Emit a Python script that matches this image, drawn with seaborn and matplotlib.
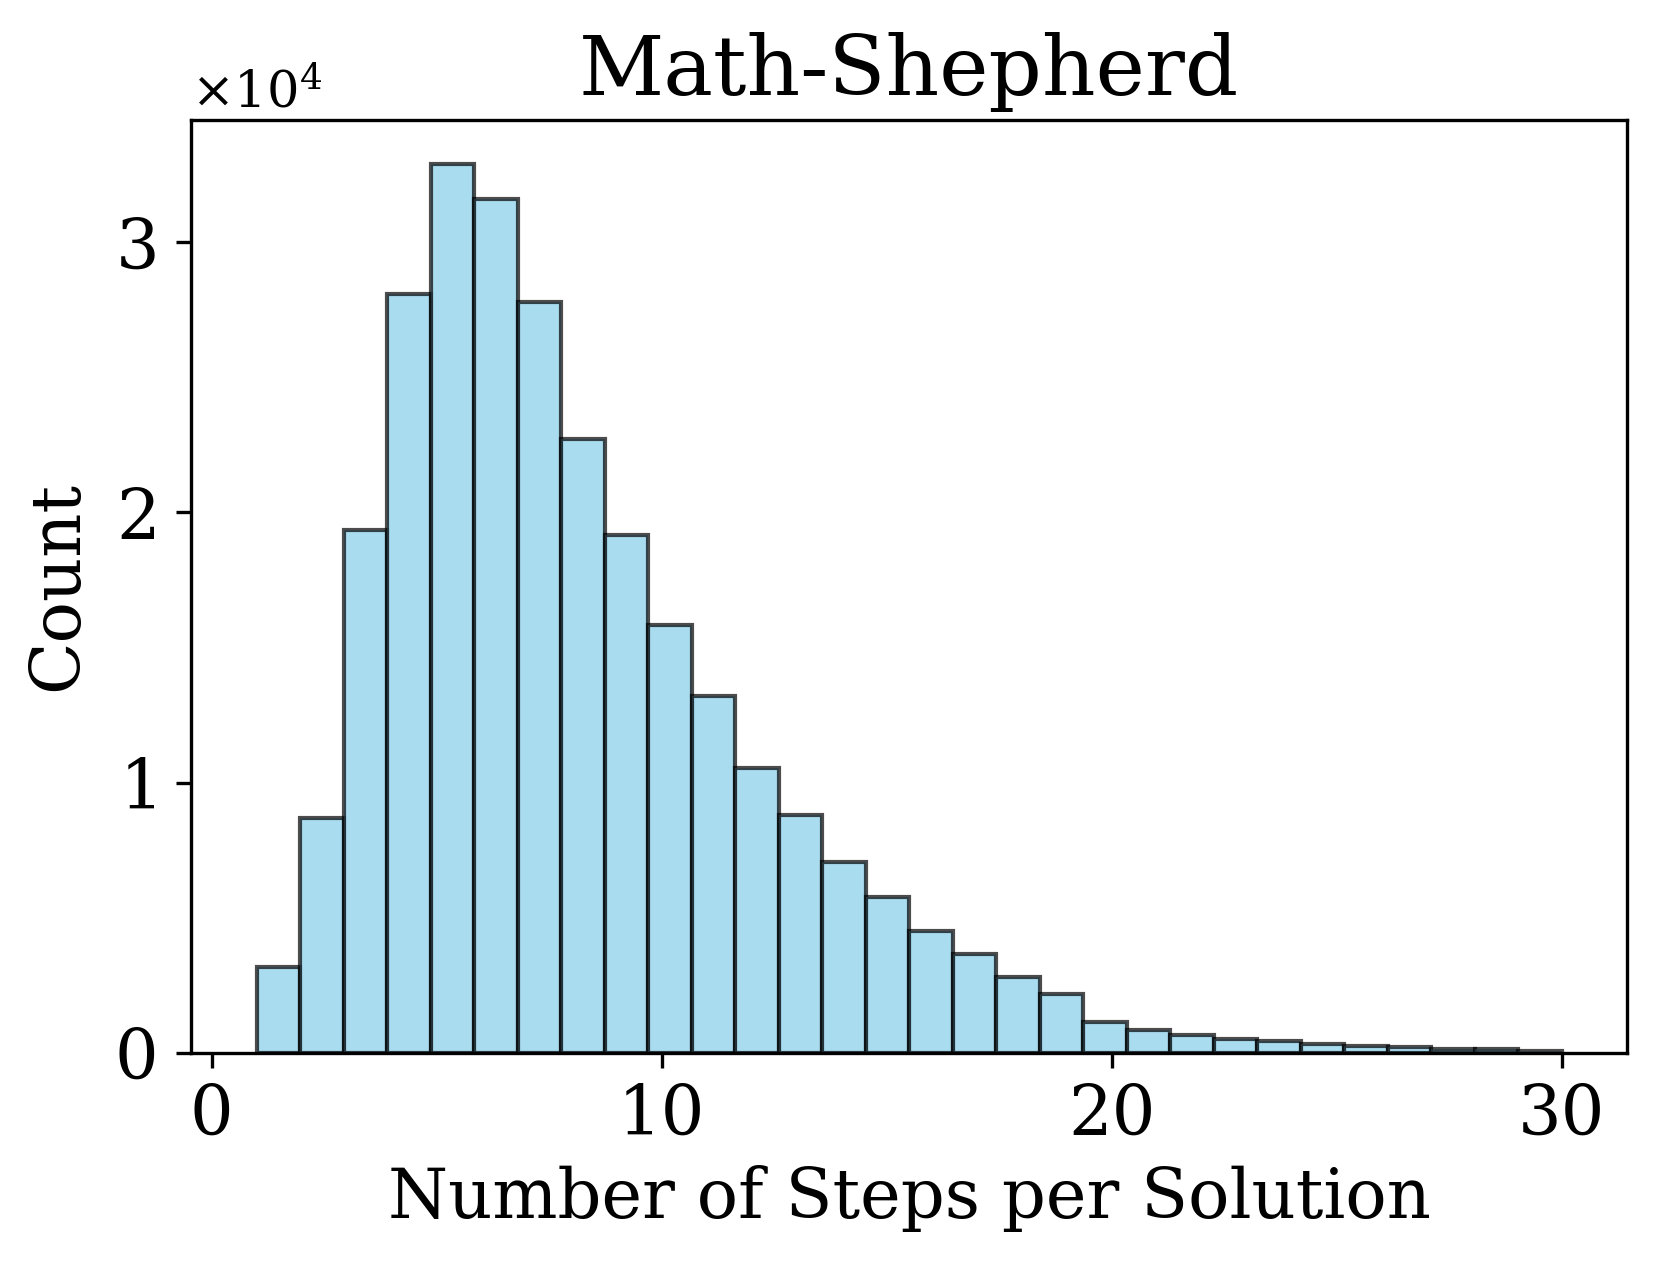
import numpy as np
import pandas as pd
import matplotlib
matplotlib.use("Agg")
import matplotlib.pyplot as plt
from matplotlib.ticker import MultipleLocator
import seaborn as sns

# steps per solution and how many solutions have that many steps
steps = list(range(1, 31))
counts = [3170, 8700, 19350, 28080, 32900, 31610, 27810, 22720, 19150, 15820,
          13200, 10540, 8810, 7050, 5760, 4500, 3640, 2820, 2190, 1150,
          840, 655, 510, 435, 320, 250, 195, 150, 120, 50]

df = pd.DataFrame({"steps": steps, "count": counts})

plt.rcParams["font.family"] = ["DejaVu Serif"]
plt.rcParams["mathtext.fontset"] = "dejavuserif"

fig = plt.figure(figsize=(1659 / 300, 1263 / 300), dpi=300)
ax = fig.add_axes([0.1154, 0.1665, 0.8653, 0.7388])

sns.histplot(data=df, x="steps", weights="count", bins=30, binrange=(1, 30),
             color="skyblue", alpha=0.7, edgecolor=(0, 0, 0, 0.7), linewidth=1.0, ax=ax)

ax.set_title("Math-Shepherd", fontsize=20)
ax.set_xlabel("Number of Steps per Solution", fontsize=16.5)
ax.set_ylabel("Count", fontsize=16.5, labelpad=5.4)
ax.tick_params(labelsize=16.5)
ax.tick_params(axis="y", pad=5.2)
ax.xaxis.set_major_locator(MultipleLocator(10))
ax.yaxis.set_major_locator(MultipleLocator(10000))
ax.ticklabel_format(axis="y", style="sci", scilimits=(0, 0), useMathText=True)
ax.yaxis.get_offset_text().set_fontsize(12.3)

fig.savefig("out.png", dpi=300)
